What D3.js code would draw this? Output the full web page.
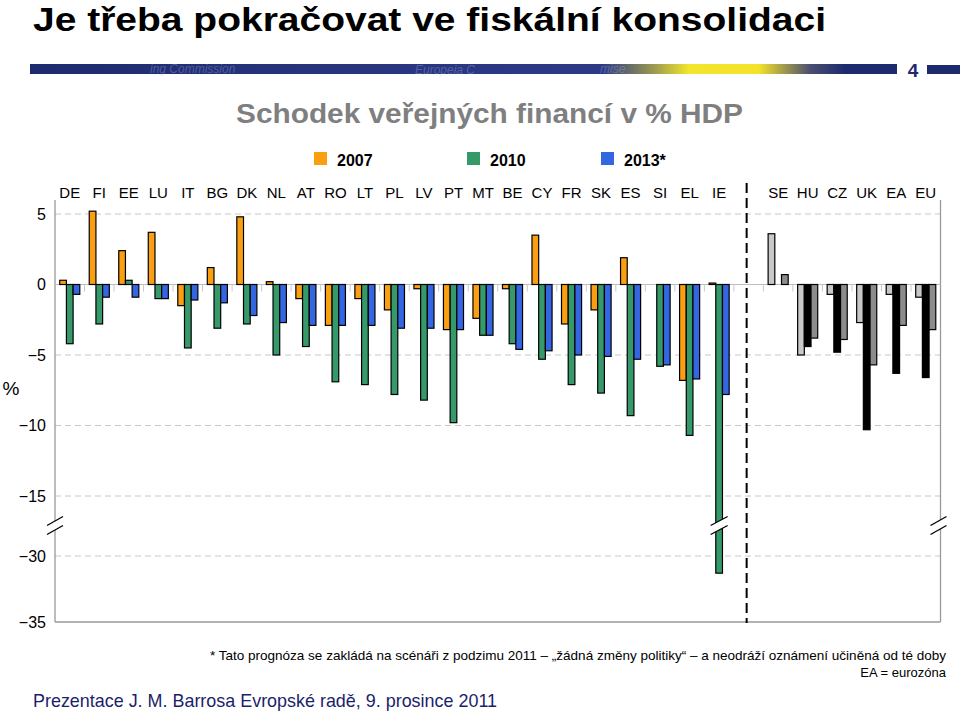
<!DOCTYPE html>
<html>
<head>
<meta charset="utf-8">
<script src="https://cdn.jsdelivr.net/npm/d3@7"></script>
<style>
  html, body { margin: 0; padding: 0; background: #fff; }
  svg { display: block; }
  text { font-family: "Liberation Sans", Arial, sans-serif; }
</style>
</head>
<body>
<svg id="chart" width="960" height="713"></svg>
<script>
// ---------- DATA ----------
const categories = ["DE","FI","EE","LU","IT","BG","DK","NL","AT","RO","LT","PL","LV","PT","MT","BE","CY","FR","SK","ES","SI","EL","IE",
                    "SE","HU","CZ","UK","EA","EU"];
const euroArea = ["DE","FI","EE","LU","IT","BG","DK","NL","AT","RO","LT","PL","LV","PT","MT","BE","CY","FR","SK","ES","SI","EL","IE"];
const seriesNames = ["2007","2010","2013*"];
const v2007 = [0.3, 5.2, 2.4, 3.7, -1.5, 1.2, 4.8, 0.2, -1.0, -2.9, -1.0, -1.8, -0.3, -3.2, -2.4, -0.3, 3.5, -2.8, -1.8, 1.9, 0.0, -6.8, 0.1,
               3.6, -5.0, -0.7, -2.7, -0.7, -0.9];
const v2010 = [-4.2, -2.8, 0.3, -1.0, -4.5, -3.1, -2.8, -5.0, -4.4, -6.9, -7.1, -7.8, -8.2, -9.8, -3.6, -4.2, -5.3, -7.1, -7.7, -9.3, -5.8, -10.7, -31.3,
               0.0, -4.4, -4.8, -10.3, -6.3, -6.6];
const v2013 = [-0.7, -0.9, -0.9, -1.0, -1.1, -1.3, -2.2, -2.7, -2.9, -2.9, -2.9, -3.1, -3.1, -3.2, -3.6, -4.6, -4.7, -5.0, -5.1, -5.3, -5.7, -6.7, -7.8,
               0.7, -3.8, -3.9, -5.7, -2.9, -3.2];
const yTicks = [5, 0, -5, -10, -15, -30, -35];
const yDomain = [5, -15, -30, -35];   // broken axis: -15 .. -30 compressed

// ---------- STYLE ----------
const colorsEuro = ["#FA9E12", "#35996A", "#3366E0"];
const colorsOther = ["#C8C8C8", "#000000", "#8C8C8C"];

const svg = d3.select("#chart");

// ---------- HEADER ----------
svg.append("text").attr("x", 33).attr("y", 31)
  .attr("font-family", "'Liberation Sans Narrow', 'Liberation Sans', Arial, sans-serif")
  .attr("font-weight", "bold").attr("font-size", 34)
  .attr("textLength", 793).attr("lengthAdjust", "spacingAndGlyphs")
  .attr("fill", "#000")
  .text("Je třeba pokračovat ve fiskální konsolidaci");

const defs = svg.append("defs");
const grad = defs.append("linearGradient").attr("id", "band").attr("x1", "0").attr("x2", "1");
[[0, "#1E2A6E"], [0.35, "#27357F"], [0.66, "#2C3A86"], [0.72, "#9C9A50"], [0.76, "#F2E52C"], [0.84, "#F4E32A"],
 [0.9, "#4A4F70"], [0.94, "#1E2A6E"], [1, "#1E2A6E"]]
  .forEach(([o, c]) => grad.append("stop").attr("offset", o).attr("stop-color", c));
svg.append("rect").attr("x", 30).attr("y", 64).attr("width", 867).attr("height", 10).attr("fill", "url(#band)");
const wm = svg.append("g").attr("fill", "rgba(190,200,235,0.3)").attr("font-style", "italic").attr("font-size", 12);
wm.append("text").attr("x", 150).attr("y", 73).text("ing Commission");
wm.append("text").attr("x", 415).attr("y", 74).text("Europeia C");
wm.append("text").attr("x", 600).attr("y", 73).text("mise");
svg.append("text").attr("x", 913).attr("y", 77).attr("text-anchor", "middle")
  .attr("font-weight", "bold").attr("font-size", 19).attr("fill", "#1E2A6E").text("4");
svg.append("rect").attr("x", 927).attr("y", 65).attr("width", 33).attr("height", 9).attr("fill", "#1E2A6E");

svg.append("text").attr("x", 489.5).attr("y", 123).attr("text-anchor", "middle")
  .attr("font-weight", "bold").attr("font-size", 27).attr("fill", "#7F7F7F")
  .attr("textLength", 507).attr("lengthAdjust", "spacingAndGlyphs")
  .text("Schodek veřejných financí v % HDP");

// legend
const legX = [314, 467, 601];
seriesNames.forEach((s, i) => {
  svg.append("rect").attr("x", legX[i]).attr("y", 152).attr("width", 13).attr("height", 13).attr("fill", colorsEuro[i]);
  svg.append("text").attr("x", legX[i] + 23).attr("y", 166).attr("font-weight", "bold").attr("font-size", 16)
    .attr("fill", "#000").text(s);
});

// ---------- SCALES ----------
const plotLeft = 55, plotRight = 940.5, plotTop = 200, plotBottom = 622;
const slots = [...euroArea, "__gap__", ...categories.filter(c => !euroArea.includes(c))];
const x = d3.scaleBand().domain(slots).range([plotLeft, plotRight]).paddingInner(0.32).paddingOuter(0.16);
const x1 = d3.scaleBand().domain(seriesNames).range([0, x.bandwidth()]);
const y = d3.scaleLinear().domain(yDomain).range([214, 496, 556, plotBottom]);

// gridlines
const grid = svg.append("g");
yTicks.filter(t => t !== 0 && t !== -35).forEach(t => {
  grid.append("line").attr("x1", plotLeft).attr("x2", plotRight).attr("y1", y(t)).attr("y2", y(t))
    .attr("stroke", "#C8C8C8").attr("stroke-width", 1).attr("stroke-dasharray", "6,4");
});

// axes frame
const axisCol = "#9A9A9A";
svg.append("line").attr("x1", plotLeft).attr("x2", plotLeft).attr("y1", plotTop).attr("y2", plotBottom).attr("stroke", axisCol).attr("stroke-width", 1.3);
svg.append("line").attr("x1", plotRight).attr("x2", plotRight).attr("y1", plotTop).attr("y2", plotBottom).attr("stroke", axisCol).attr("stroke-width", 1.3);
svg.append("line").attr("x1", plotLeft).attr("x2", plotRight).attr("y1", plotBottom).attr("y2", plotBottom).attr("stroke", axisCol).attr("stroke-width", 1.3);

// zero line with category ticks
svg.append("line").attr("x1", plotLeft).attr("x2", plotRight).attr("y1", y(0)).attr("y2", y(0)).attr("stroke", "#BDBDBD").attr("stroke-width", 1);
const step = x.step();
d3.range(1, slots.length).forEach(i => {
  const bx = plotLeft + i * step;
  svg.append("line").attr("x1", bx).attr("x2", bx).attr("y1", y(0)).attr("y2", y(0) + 7)
    .attr("stroke", "#C8C8C8").attr("stroke-width", 1);
});

// y tick labels
const yAxis = d3.axisLeft(y).tickValues(yTicks).tickSize(0).tickPadding(9);
const gy = svg.append("g").attr("transform", `translate(${plotLeft},0)`).call(yAxis);
gy.select(".domain").remove();
gy.selectAll("text").attr("font-size", 16).attr("fill", "#000")
  .attr("font-family", "'Liberation Sans', Arial, sans-serif");

svg.append("text").attr("x", 11).attr("y", 395).attr("text-anchor", "middle").attr("font-size", 19).text("%");

// category labels
categories.forEach(c => {
  svg.append("text").attr("x", x(c) + x.bandwidth() / 2).attr("y", 198).attr("text-anchor", "middle")
    .attr("font-size", 15).attr("fill", "#000").text(c);
});

// ---------- BARS ----------
const rows = [];
categories.forEach((c, i) => {
  [v2007[i], v2010[i], v2013[i]].forEach((v, k) => {
    rows.push({ c, s: seriesNames[k], k, v, euro: euroArea.includes(c) });
  });
});
svg.append("g").selectAll("rect").data(rows.filter(d => d.v !== 0)).join("rect")
  .attr("x", d => x(d.c) + x1(d.s))
  .attr("width", x1.bandwidth())
  .attr("y", d => Math.min(y(d.v), y(0)))
  .attr("height", d => Math.abs(y(d.v) - y(0)))
  .attr("fill", d => d.euro ? colorsEuro[d.k] : colorsOther[d.k])
  .attr("stroke", "#000").attr("stroke-width", 1.2);

// ---------- BREAK MARKS ----------
const breakY = (y(-15) + y(-30)) / 2 - 5;
function breakMark(cx, halfW) {
  const g = svg.append("g");
  g.append("polygon")
    .attr("points", `${cx - halfW},${breakY + 4.5} ${cx + halfW},${breakY - 4.5} ${cx + halfW},${breakY + 4.5} ${cx - halfW},${breakY + 13.5}`)
    .attr("fill", "#fff");
  [0, 9].forEach(o => {
    g.append("line").attr("x1", cx - halfW).attr("y1", breakY + 4.5 + o).attr("x2", cx + halfW).attr("y2", breakY - 4.5 + o)
      .attr("stroke", "#000").attr("stroke-width", 1.3);
  });
}
breakMark(plotLeft, 8);
breakMark(plotRight - 2, 8);
const ieX = x("IE") + x1("2010") + x1.bandwidth() / 2;
breakMark(ieX, 8.5);

// dashed separator
const sepX = x("__gap__") + x.bandwidth() / 2 - 2;
svg.append("line").attr("x1", sepX).attr("x2", sepX).attr("y1", 183).attr("y2", plotBottom + 1)
  .attr("stroke", "#000").attr("stroke-width", 2).attr("stroke-dasharray", "10,5");

// ---------- FOOTNOTES ----------
svg.append("text").attr("x", 946).attr("y", 660).attr("text-anchor", "end").attr("font-size", 13)
  .attr("textLength", 736).attr("lengthAdjust", "spacingAndGlyphs")
  .text("* Tato prognóza se zakládá na scénáři z podzimu 2011 – „žádná změny politiky“ – a neodráží oznámení učiněná od té doby");
svg.append("text").attr("x", 946).attr("y", 677).attr("text-anchor", "end").attr("font-size", 13)
  .text("EA = eurozóna");
svg.append("text").attr("x", 33).attr("y", 707).attr("font-size", 19).attr("fill", "#1B1F6B")
  .attr("textLength", 464).attr("lengthAdjust", "spacingAndGlyphs")
  .text("Prezentace J. M. Barrosa Evropské radě, 9. prosince 2011");
</script>
</body>
</html>
